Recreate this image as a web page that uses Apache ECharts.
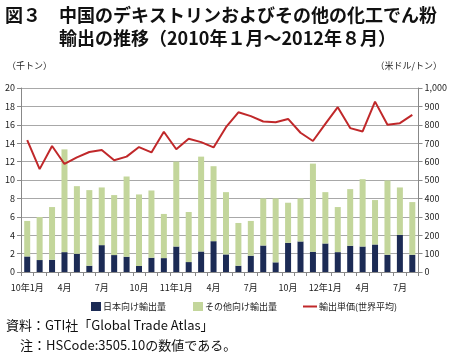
<!DOCTYPE html>
<html><head><meta charset="utf-8">
<script src="https://cdn.jsdelivr.net/npm/echarts@6/dist/echarts.min.js"></script>
<style>html,body{margin:0;padding:0;background:#fff}#c{width:450px;height:361px}</style>
</head><body><div id="c"></div>
<script>
const months = ['2010-01','2010-02','2010-03','2010-04','2010-05','2010-06','2010-07','2010-08','2010-09','2010-10','2010-11','2010-12',
'2011-01','2011-02','2011-03','2011-04','2011-05','2011-06','2011-07','2011-08','2011-09','2011-10','2011-11','2011-12',
'2012-01','2012-02','2012-03','2012-04','2012-05','2012-06','2012-07','2012-08'];
const tickLabels = ['10年1月','','','4月','','','7月','','','10月','','',
'11年1月','','','4月','','','7月','','','10月','','',
'12年1月','','','4月','','','7月',''];
const japan = [1.69,1.30,1.33,2.16,1.98,0.68,2.92,1.84,1.66,0.65,1.55,1.51,2.77,1.08,2.23,3.35,1.91,0.68,1.77,2.88,1.05,3.17,3.32,2.20,3.10,2.16,2.85,2.77,2.99,1.87,4.04,1.87];
const others = [3.86,4.68,5.73,11.17,7.35,8.22,6.27,6.52,8.72,7.78,7.31,4.80,9.23,5.44,10.31,8.15,6.77,4.65,3.78,5.12,6.95,4.36,4.68,9.58,5.58,4.90,6.16,7.32,4.83,8.08,5.15,5.73];
const price = [717,559,685,587,623,652,663,607,627,679,650,762,667,724,706,677,787,868,847,818,814,832,757,712,805,896,782,764,926,800,809,854];
const leftTicks = [0,20,2];
const rightTicks = [0,1000,100];

const F = '"Noto Sans CJK JP", sans-serif';
const chart = echarts.init(document.getElementById('c'), null, {renderer:'canvas'});
chart.setOption({
  animation:false,
  textStyle:{fontFamily:F},
  graphic:[
    {type:'text', left:5, top:6, style:{text:'図３', font:'bold 18px '+F, fill:'#111'}},
    {type:'text', left:59, top:6, style:{text:'中国のデキストリンおよびその他の化工でん粉', font:'bold 18px '+F, fill:'#111'}},
    {type:'text', left:59, top:29, style:{text:'輸出の推移（2010年１月～2012年８月）', font:'bold 18px '+F, fill:'#111'}},
    {type:'text', left:7, top:61, style:{text:'（千トン）', font:'9px '+F, fill:'#222'}},
    {type:'text', right:8, top:61, style:{text:'（米ドル/トン）', font:'9px '+F, fill:'#222'}},
    {type:'text', left:6, top:319, style:{text:'資料：GTI社「Global Trade Atlas」', font:'13px '+F, fill:'#111'}},
    {type:'text', left:20, top:339, style:{text:'注：HSCode:3505.10の数値である。', font:'13px '+F, fill:'#111'}}
  ],
  legend:[
    {data:['日本向け輸出量'], left:86, top:297, icon:'rect', itemWidth:10, itemHeight:9, itemGap:2, textStyle:{fontSize:9, color:'#222', padding:[0,0,0,-3]}},
    {data:['その他向け輸出量'], left:188, top:297, icon:'rect', itemWidth:10, itemHeight:9, textStyle:{fontSize:9, color:'#222', padding:[0,0,0,-3]}},
    {data:['輸出単価(世界平均)'], left:298, top:297, icon:'rect', itemWidth:14, itemHeight:2, textStyle:{fontSize:9, color:'#222', padding:[0,0,0,-3]}}
  ],
  grid:{left:21, right:27, top:88, bottom:89},
  xAxis:{type:'category', data:months, boundaryGap:true,
    axisLine:{lineStyle:{color:'#888'}},
    axisTick:{show:true, interval:0, alignWithLabel:false, length:4, lineStyle:{color:'#888'}},
    axisLabel:{interval:0, fontSize:9, color:'#222', margin:11, formatter:(v,i)=>tickLabels[i]}
  },
  yAxis:[
    {type:'value', min:leftTicks[0], max:leftTicks[1], interval:leftTicks[2],
     axisLine:{show:true, lineStyle:{color:'#888'}}, axisTick:{show:true, length:4, lineStyle:{color:'#888'}},
     axisLabel:{fontSize:9, color:'#222', margin:6},
     splitLine:{lineStyle:{color:'#a8a8a8', width:1}}},
    {type:'value', min:rightTicks[0], max:rightTicks[1], interval:rightTicks[2],
     axisLine:{show:true, lineStyle:{color:'#888'}}, axisTick:{show:true, length:4, lineStyle:{color:'#888'}},
     axisLabel:{fontSize:9, color:'#222', margin:6, formatter:v=>v.toLocaleString('en-US')},
     splitLine:{show:false}}
  ],
  series:[
    {name:'日本向け輸出量', type:'bar', stack:'q', data:japan, barWidth:6, itemStyle:{color:'#1c2b55'}},
    {name:'その他向け輸出量', type:'bar', stack:'q', data:others, barWidth:6, itemStyle:{color:'#c3d69b'}},
    {name:'輸出単価(世界平均)', type:'line', yAxisIndex:1, data:price, symbol:'none', lineStyle:{color:'#c0282a', width:2}, itemStyle:{color:'#c0282a'}}
  ]
});
</script></body></html>
